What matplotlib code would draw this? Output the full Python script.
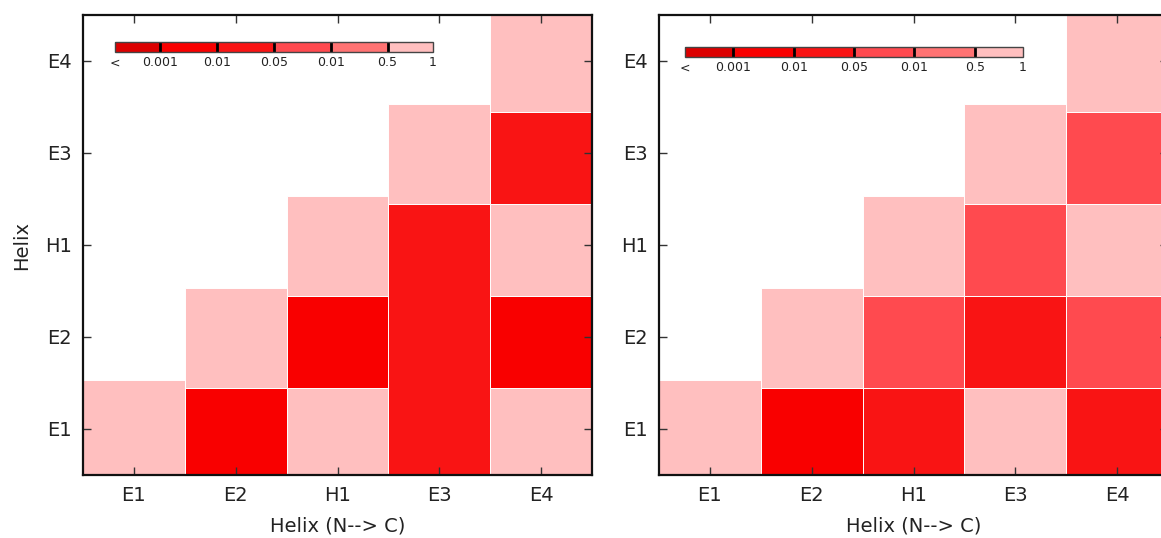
import matplotlib
matplotlib.use("Agg")
import matplotlib.pyplot as plt
from matplotlib.colors import ListedColormap, BoundaryNorm
import matplotlib as mpl

helices = ["E1", "E2", "H1", "E3", "E4"]
level_colors = ["#dc0000", "#f90000", "#f91414", "#ff4a4f", "#ff7373", "#ffbfbf"]
cbar_labels = ["<", "0.001", "0.01", "0.05", "0.01", "0.5", "1"]

# significance level index per column (rows from E1 upward, up to the diagonal)
left_levels = [
    [5],
    [1, 5],
    [5, 1, 5],
    [2, 2, 2, 5],
    [5, 1, 5, 2, 5],
]
right_levels = [
    [5],
    [1, 5],
    [2, 3, 5],
    [5, 2, 3, 5],
    [2, 3, 5, 3, 5],
]

W, H = 1161, 538
fig = plt.figure(figsize=(W / 100, H / 100), dpi=100)


def draw_panel(ax, levels):
    for j, col in enumerate(levels):
        n = len(col)
        edges = [-0.5]
        for i in range(1, n):
            edges.append(i - 0.55)
        edges.append(n - 1 + 0.53)
        start = 0
        for i in range(1, n + 1):
            if i == n or col[i] != col[start]:
                b = edges[start]
                t = edges[i]
                ax.bar(j, t - b, bottom=b, width=1.0, color=level_colors[col[start]],
                       edgecolor="white", linewidth=0.7, zorder=1)
                start = i
    ax.set_xlim(-0.5, 4.5)
    ax.set_ylim(-0.5, 4.5)
    ax.set_xticks(range(5))
    ax.set_xticklabels(helices, fontsize=14)
    ax.set_yticks(range(5))
    ax.set_yticklabels(helices, fontsize=14)
    ax.tick_params(direction="in", length=6, width=1, top=True, right=True,
                   pad=8, color="#333333", labelcolor="#222222")
    for s in ax.spines.values():
        s.set_linewidth(1.6)
        s.set_color("#111111")
        s.set_zorder(5)
    ax.set_xlabel("Helix (N--> C)", fontsize=14, labelpad=8, color="#222222")


def draw_cbar(rect):
    cax = fig.add_axes(rect)
    cmap = ListedColormap(level_colors)
    bounds = [0, 0.8, 1.8, 2.8, 3.8, 4.8, 5.6]
    norm = BoundaryNorm(bounds, cmap.N)
    cb = mpl.colorbar.ColorbarBase(cax, cmap=cmap, norm=norm, orientation="horizontal",
                                   boundaries=bounds, spacing="proportional", drawedges=True)
    cb.dividers.set_color("black")
    cb.dividers.set_linewidth(2)
    cb.outline.set_linewidth(1)
    cb.outline.set_edgecolor("#444444")
    cb.set_ticks(bounds)
    cb.set_ticklabels(cbar_labels)
    cax.tick_params(length=0, labelsize=9, pad=3, colors="#222222")


ax1 = fig.add_axes([83 / W, 1 - 475 / H, 509 / W, 460 / H])
draw_panel(ax1, left_levels)
ax1.set_ylabel("Helix", fontsize=14, labelpad=10, color="#222222")

ax2 = fig.add_axes([659 / W, 1 - 475 / H, 509 / W, 460 / H])
draw_panel(ax2, right_levels)

draw_cbar([115 / W, 1 - 52 / H, 318 / W, 10 / H])
draw_cbar([685 / W, 1 - 57 / H, 338 / W, 10 / H])

fig.savefig("out.png", dpi=100)
